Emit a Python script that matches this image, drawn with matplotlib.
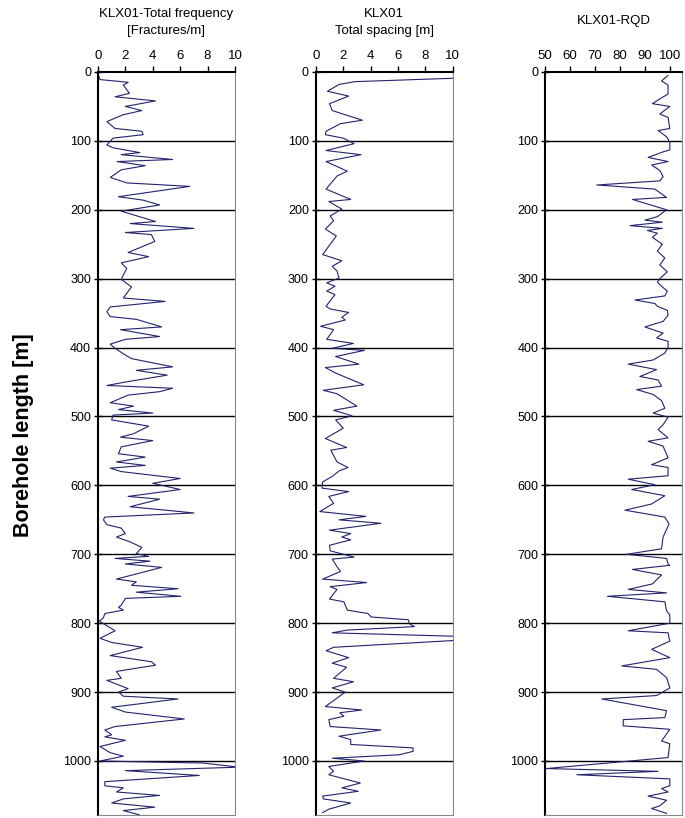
import matplotlib.pyplot as plt
import numpy as np

plt.rcParams['font.family'] = ['Liberation Sans', 'DejaVu Sans']

# Total fracture frequency [fractures/m] vs borehole length [m]
freq_depth = [2, 11, 15, 19, 31, 36, 42, 50, 56, 62, 72, 82, 86, 91, 96, 106, 110, 117, 120, 127,
              130, 136, 142, 153, 161, 166, 181, 186, 193, 202, 217, 220, 227, 233, 236, 246, 262, 268, 277, 285,
              301, 312, 328, 333, 341, 348, 355, 359, 370, 374, 384, 388, 395, 401, 409, 416, 428, 433, 440, 450,
              455, 459, 464, 469, 480, 485, 490, 495, 498, 505, 514, 525, 530, 535, 544, 554, 559, 566, 571, 575,
              580, 590, 597, 606, 616, 620, 631, 640, 646, 650, 657, 662, 670, 675, 682, 690, 699, 703, 706, 710,
              714, 719, 736, 740, 745, 750, 755, 761, 764, 774, 777, 781, 786, 792, 797, 811, 822, 828, 835, 847,
              856, 861, 866, 870, 880, 883, 895, 900, 906, 910, 922, 929, 939, 950, 955, 962, 965, 970, 979, 988,
              993, 1000, 1003, 1009, 1014, 1021, 1030, 1036, 1039, 1045, 1050, 1055, 1061, 1067, 1072, 1078]
freq_value = [0.0, 0.15, 2.2, 1.85, 2.3, 1.25, 4.2, 2.0, 3.2, 1.85, 0.65, 1.25, 3.2, 3.3, 1.1, 0.65, 1.1, 3.05, 1.7, 5.45,
              1.4, 3.45, 1.7, 0.9, 2.1, 6.7, 1.5, 3.3, 4.5, 1.7, 4.2, 2.35, 7.0, 2.0, 3.9, 4.15, 2.2, 3.7, 1.7, 2.1,
              1.7, 2.45, 1.85, 4.9, 0.9, 0.65, 0.9, 2.8, 4.65, 1.65, 4.5, 2.0, 0.9, 1.25, 1.85, 2.45, 5.45, 2.8, 5.05, 2.0,
              0.65, 5.45, 4.5, 2.2, 0.9, 2.6, 1.5, 4.0, 1.1, 1.0, 3.7, 2.6, 1.65, 4.0, 1.7, 1.5, 3.45, 1.35, 3.45, 0.9,
              1.7, 6.0, 4.0, 6.0, 2.2, 4.5, 2.35, 7.0, 0.5, 0.4, 0.65, 1.7, 2.0, 1.35, 2.35, 3.2, 2.8, 3.7, 1.25, 3.8,
              2.0, 4.65, 1.35, 2.8, 2.45, 5.85, 2.8, 6.05, 2.0, 1.7, 1.5, 1.85, 0.5, 0.4, 0.1, 1.25, 0.15, 1.0, 3.25, 0.9,
              3.9, 4.2, 2.6, 1.35, 1.7, 0.65, 2.2, 1.5, 1.85, 5.85, 1.0, 2.0, 6.3, 1.25, 0.5, 1.0, 0.5, 2.0, 0.15, 0.9,
              1.85, 0.15, 7.7, 10.3, 2.0, 7.4, 0.5, 0.5, 1.85, 1.35, 4.5, 1.85, 1.0, 4.15, 1.85, 3.0]

# Total spacing [m]
spac_depth = [9, 14, 18, 28, 35, 46, 56, 70, 75, 86, 91, 96, 104, 114, 120, 130, 144, 151, 170, 185,
              188, 199, 209, 216, 228, 238, 265, 274, 282, 289, 299, 306, 311, 318, 323, 340, 344, 349, 356, 360,
              369, 374, 388, 394, 401, 404, 413, 424, 429, 437, 454, 462, 467, 485, 491, 499, 505, 517, 532, 545,
              549, 566, 574, 579, 587, 595, 604, 609, 616, 626, 638, 645, 650, 655, 665, 670, 675, 679, 687, 695,
              704, 707, 718, 725, 736, 741, 747, 751, 765, 769, 781, 786, 791, 795, 801, 805, 810, 814, 819, 825,
              835, 840, 850, 858, 864, 880, 885, 894, 900, 921, 926, 930, 935, 940, 950, 955, 964, 969, 976, 981,
              986, 991, 996, 1000, 1008, 1015, 1020, 1032, 1039, 1044, 1051, 1055, 1061, 1070, 1075]
spac_value = [10.2, 2.9, 1.7, 0.85, 2.4, 1.0, 1.2, 3.4, 1.8, 0.75, 0.7, 2.0, 2.8, 0.75, 3.3, 0.75, 2.3, 1.55, 0.75, 2.55,
              0.95, 1.9, 1.05, 1.3, 0.7, 1.5, 0.5, 1.9, 1.2, 1.55, 1.7, 0.8, 1.4, 0.8, 1.4, 0.75, 1.05, 2.4, 1.9, 2.15,
              0.35, 1.3, 0.8, 2.75, 1.2, 3.55, 1.45, 3.15, 0.7, 1.45, 3.5, 0.55, 1.55, 3.0, 1.3, 2.65, 1.45, 2.0, 0.7, 2.25,
              1.1, 1.55, 2.35, 1.7, 1.2, 0.5, 0.45, 2.4, 0.95, 1.3, 0.3, 3.65, 1.7, 4.75, 1.0, 2.55, 1.9, 2.55, 1.0, 1.05,
              2.8, 1.2, 1.55, 1.8, 0.5, 3.7, 1.05, 1.55, 1.0, 2.05, 2.3, 3.8, 4.05, 6.75, 6.85, 7.2, 2.3, 1.2, 10.2, 10.2,
              1.3, 0.75, 2.4, 1.2, 2.25, 1.3, 2.75, 1.2, 2.15, 0.7, 3.35, 1.75, 2.05, 0.95, 1.05, 4.75, 1.7, 2.55, 2.55, 7.1,
              7.1, 6.1, 1.2, 3.55, 0.95, 1.3, 0.95, 3.25, 1.9, 3.1, 0.5, 0.55, 2.55, 0.95, 0.5]

# RQD [%]
rqd_depth = [5, 13, 19, 32, 39, 46, 50, 61, 66, 82, 85, 94, 102, 113, 116, 124, 130, 135, 143, 152,
             158, 164, 170, 182, 185, 200, 210, 215, 218, 223, 227, 230, 234, 240, 250, 260, 270, 280, 290, 300,
             305, 312, 318, 325, 331, 336, 340, 346, 353, 362, 370, 379, 386, 391, 400, 408, 418, 424, 432, 442,
             447, 456, 461, 468, 477, 488, 495, 501, 512, 519, 531, 536, 543, 560, 570, 574, 586, 591, 599, 606,
             615, 627, 636, 646, 656, 675, 692, 700, 706, 714, 716, 722, 730, 743, 751, 756, 761, 769, 782, 788,
             800, 811, 814, 826, 838, 850, 862, 867, 879, 894, 905, 910, 927, 937, 940, 949, 954, 971, 975, 995,
             1011, 1015, 1020, 1026, 1036, 1040, 1045, 1051, 1057, 1065, 1069, 1076]
rqd_value = [99.3, 96.7, 99.3, 99.3, 96.0, 93.0, 100.0, 96.0, 99.3, 100.0, 95.3, 98.7, 100.0, 100.0, 97.3, 91.3, 99.3, 92.7, 96.0, 97.3,
             96.0, 70.7, 94.0, 98.7, 85.0, 98.7, 95.0, 90.0, 97.0, 84.0, 97.0, 91.0, 95.0, 93.0, 97.0, 95.0, 98.0, 96.0, 99.0, 96.0,
             95.0, 97.0, 99.0, 98.0, 86.0, 94.0, 95.0, 99.0, 99.3, 97.3, 90.0, 97.3, 94.7, 99.3, 99.3, 98.0, 93.3, 83.3, 94.7, 88.0,
             95.3, 96.7, 86.7, 93.3, 96.7, 98.0, 93.3, 99.3, 97.3, 95.3, 99.3, 91.3, 97.3, 99.3, 92.7, 99.3, 99.3, 83.3, 94.0, 84.7,
             98.0, 92.7, 82.0, 98.0, 99.7, 97.3, 96.7, 82.7, 98.7, 99.3, 100.0, 85.0, 96.7, 93.0, 83.3, 98.7, 75.0, 98.0, 98.7, 100.0,
             100.0, 83.3, 99.3, 100.0, 92.7, 100.0, 80.7, 94.7, 98.7, 100.0, 94.7, 72.7, 98.7, 98.0, 81.3, 81.3, 100.0, 96.7, 100.0, 99.3,
             50.4, 95.3, 62.7, 100.0, 100.0, 96.7, 99.3, 91.3, 98.7, 96.0, 92.7, 98.7]

line_color = '#23236e'
depth_max = 1078

fig = plt.figure(figsize=(6.85, 8.18), dpi=100)

panels = [
    (0.143, freq_depth, freq_value, (0, 10), [0, 2, 4, 6, 8, 10], 'KLX01-Total frequency\n[Fractures/m]'),
    (0.461, spac_depth, spac_value, (0, 10), [0, 2, 4, 6, 8, 10], 'KLX01\nTotal spacing [m]'),
    (0.796, rqd_depth, rqd_value, (50, 105), [50, 60, 70, 80, 90, 100], 'KLX01-RQD'),
]

for left, depth, value, xlim, xticks, title in panels:
    ax = fig.add_axes([left, 0.004, 0.2, 0.908])
    ax.plot(value, depth, color=line_color, lw=0.8)
    ax.set_xlim(*xlim)
    ax.set_ylim(depth_max, 0)
    ax.set_xticks(xticks)
    ax.set_yticks(np.arange(0, 1001, 100))
    ax.xaxis.tick_top()
    ax.tick_params(axis='x', direction='out', length=4, width=1, labelsize=9.5, pad=3)
    ax.tick_params(axis='y', direction='inout', length=6, width=1, labelsize=9, pad=2)
    for d in range(100, 1001, 100):
        ax.axhline(d, color='black', lw=1, zorder=0)
    ax.spines['left'].set_linewidth(1.5)
    ax.spines['top'].set_linewidth(1.5)
    ax.spines['right'].set_color('#888888')
    ax.spines['bottom'].set_color('#888888')
    cx = left + 0.1
    if '\n' in title:
        fig.text(cx, 0.99, title, ha='center', va='top', fontsize=9.5, linespacing=1.55)
    else:
        fig.text(cx, 0.982, title, ha='center', va='top', fontsize=9.5)

fig.text(0.034, 0.468, 'Borehole length [m]', rotation=90, ha='center', va='center',
         fontsize=15.5, fontweight='bold')

plt.savefig('out.png', dpi=100)
